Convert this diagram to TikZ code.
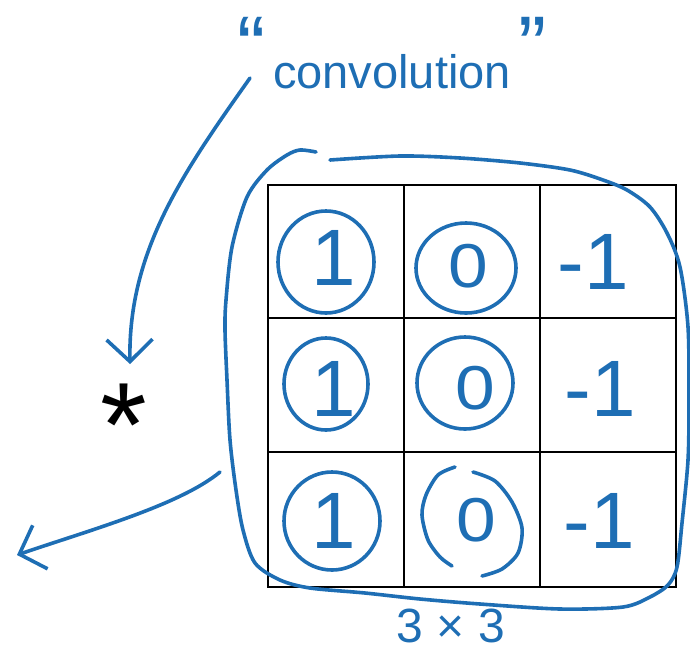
\documentclass[tikz,border=0pt]{standalone}
\usepackage{fontspec}
\setmainfont{Liberation Sans}
\usepackage{xcolor}
\usepackage{tikz}
\usetikzlibrary{arrows.meta}
\definecolor{penblue}{RGB}{30,110,180}

\begin{document}
\begin{tikzpicture}[x=1pt, y=-1pt, every node/.style={inner sep=0pt},
  pen/.style={draw=penblue, line width=3.6pt, line cap=round, line join=round},
  handarrow/.style={pen, -{Straight Barb[length=22pt, width=46pt]}},
  handtext/.style={text=penblue, font=\fontsize{47}{47}\selectfont},
  entry/.style={text=penblue, font=\fontsize{80}{80}\selectfont},
  zero/.style={text=penblue, font=\fontsize{62}{62}\selectfont, xscale=1.15},
  gridline/.style={draw=black, line width=2pt}]
  \useasboundingbox (0,0) rectangle (690,654);

  \draw[gridline] (268,185) rectangle (676,587);
  \foreach \x in {404,540} \draw[gridline] (\x,185) -- (\x,587);
  \foreach \y in {318,452} \draw[gridline] (268,\y) -- (676,\y);

  \node[entry] (one-top) at (334,258) {1};
  \node[entry] (one-mid) at (334,389) {1};
  \node[entry] (one-bot) at (334,521) {1};
  \node[zero] (zero-top) at (468,266) {0};
  \node[zero] (zero-mid) at (475,388) {0};
  \node[zero] (zero-bot) at (476,520) {0};
  \node[entry] (neg-top) at (593,262) {-1};
  \node[entry] (neg-mid) at (600,389) {-1};
  \node[entry] (neg-bot) at (599,521) {-1};

  \draw[pen] (326,262) ellipse [x radius=48, y radius=51];
  \draw[pen] (326,384) ellipse [x radius=42, y radius=46];
  \draw[pen] (332,521) ellipse [x radius=48, y radius=49];
  \draw[pen] (466,268) ellipse [x radius=50, y radius=45];
  \draw[pen] (465,383) ellipse [x radius=48, y radius=46];
  \draw[pen] plot[smooth] coordinates {(455,467) (438,475) (426,495) (422,515) (428,540) (440,557) (452,566)};
  \draw[pen] plot[smooth] coordinates {(473,472) (495,481) (512,502) (522,528) (518,553) (502,569) (482,576)};

  \draw[pen] plot[smooth] coordinates {(330,160) (400,156) (460,158) (520,163) (570,170) (603,180) (627,190)
    (650,207) (667,233) (680,267) (688,327) (689,400) (688,460) (682,523) (677,567) (668,585) (650,597)
    (623,607) (560,609) (480,604) (420,599) (365,593) (310,588) (280,580) (255,563) (243,530) (236,490)
    (230,440) (227,380) (225,330) (226,300) (232,247) (247,197) (267,170) (287,155) (300,150) (316,152)};

  \node[handtext, anchor=base] (conv) at (392,88)
    {\raisebox{13pt}{\scalebox{1.8}{“}}\,convolution\,\raisebox{13pt}{\scalebox{1.8}{”}}};
  \node[handtext, font=\fontsize{48}{48}\selectfont] (size) at (451,626) {3 × 3};
  \node[font=\fontsize{120}{120}\selectfont, anchor=north] (star) at (124,384) {*};

  \coordinate (convtail) at (250,78);
  \coordinate (loopout) at (220,472);
  \coordinate (result) at (17,555);
  \draw[handarrow] (convtail) .. controls (185,170) and (128,250) .. ([xshift=6pt, yshift=20pt]star.north);
  \draw[handarrow] (loopout) .. controls (180,505) and (90,530) .. (result);
\end{tikzpicture}
\end{document}
